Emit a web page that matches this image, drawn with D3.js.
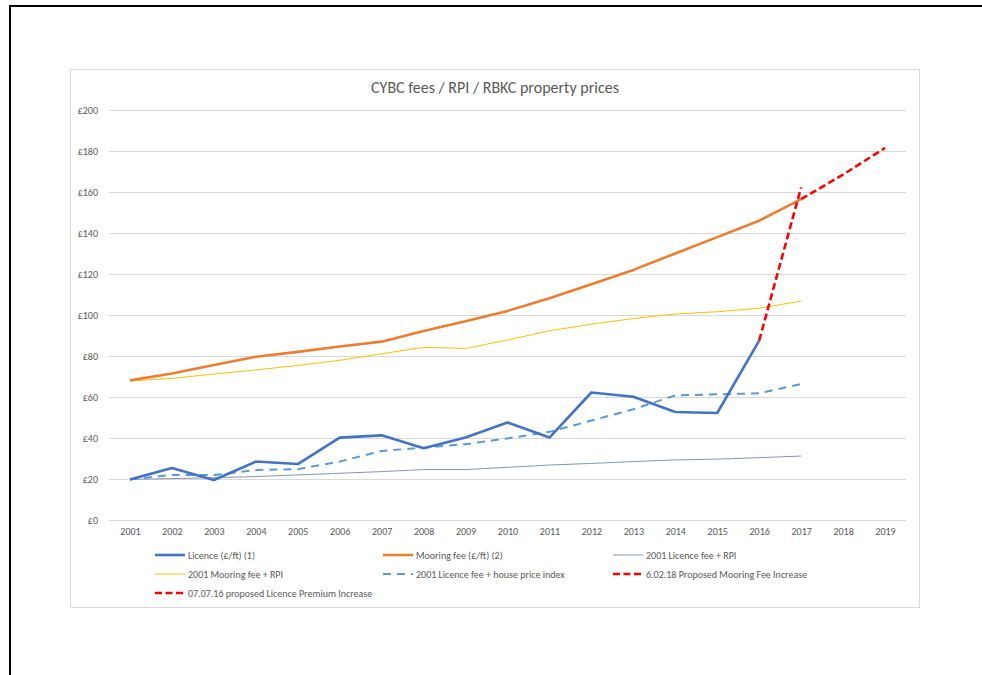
<!DOCTYPE html>
<html><head><meta charset="utf-8">
<script src="https://cdn.jsdelivr.net/npm/d3@7"></script>
<style>
html,body{margin:0;padding:0;background:#fff;}
svg text{font-family:Carlito,Calibri,Lato,"Liberation Sans",sans-serif;fill:#595959;}
</style></head>
<body>
<svg id="chart" width="982" height="675"></svg>
<script>
const years = ["2001","2002","2003","2004","2005","2006","2007","2008","2009","2010","2011","2012","2013","2014","2015","2016","2017","2018","2019"];
const yTicks = [0,20,40,60,80,100,120,140,160,180,200];
const title = "CYBC fees / RPI / RBKC property prices";

const licence = [19.8,25.4,19.5,28.5,27.3,40.2,41.3,35,40.2,47.6,40.2,62.2,60.1,52.7,52.2,87.5,null,null,null];
const mooring = [68.1,71.5,75.6,79.6,82,84.6,87,92.2,97,102,108.2,115,122,130,138,146,156.5,null,null];
const licenceRPI = [19.8,20.2,20.6,21.2,22,22.8,23.6,24.6,24.6,25.7,26.8,27.6,28.5,29.3,29.7,30.4,31.2,null,null];
const mooringRPI = [67.8,69.1,71.2,73.2,75.4,77.9,81.1,84.2,83.7,87.8,92.3,95.5,98.3,100.5,101.6,103.3,106.8,null,null];
const licenceHPI = [19.8,22,21.9,24.4,24.8,28.5,33.7,35.3,37,39.8,43,48.5,54,60.8,61.3,61.8,66.3,null,null];
const mooringProposed = [null,null,null,null,null,null,null,null,null,null,null,null,null,null,null,null,156.5,168.5,181.5];
const licenceProposed = [null,null,null,null,null,null,null,null,null,null,null,null,null,null,null,87.5,162.3,null,null];

const seriesNames = ["Licence (£/ft) (1)","Mooring fee (£/ft) (2)","2001 Licence fee + RPI","2001 Mooring fee + RPI","2001 Licence fee + house price index","6.02.18 Proposed Mooring Fee Increase","07.07.16 proposed Licence Premium Increase"];

const series = [
  {name:seriesNames[0], values:licence, color:"#4472C4", width:2.6, dash:null},
  {name:seriesNames[1], values:mooring, color:"#ED7D31", width:2.6, dash:null},
  {name:seriesNames[2], values:licenceRPI, color:"#8496B0", width:1, dash:null},
  {name:seriesNames[3], values:mooringRPI, color:"#FFC000", width:1, dash:null},
  {name:seriesNames[4], values:licenceHPI, color:"#5B9BD5", width:2, dash:"8,6"},
  {name:seriesNames[5], values:mooringProposed, color:"#FF0000", width:2.6, dash:"7,3.5"},
  {name:seriesNames[6], values:licenceProposed, color:"#FF0000", width:2.6, dash:"7,3.5"}
];
const drawOrder = [2,3,4,0,1,6,5];

const svg = d3.select("#chart");
// outer frame
svg.append("rect").attr("x",10).attr("y",6).attr("width",1000).attr("height",700)
  .attr("fill","none").attr("stroke","#000").attr("stroke-width",2);
// chart area
svg.append("rect").attr("x",70.5).attr("y",69.5).attr("width",849).attr("height",538)
  .attr("fill","#fff").attr("stroke","#D9D9D9").attr("stroke-width",1);

svg.append("text").attr("x",495).attr("y",93).attr("text-anchor","middle")
  .style("font-size","16px").text(title);

const x = d3.scalePoint().domain(years).range([109,906]).padding(0.5);
const y = d3.scaleLinear().domain([0,200]).range([520,110]);

// gridlines
const yAxis = d3.axisLeft(y).tickValues(yTicks).tickSize(-(906-109)).tickFormat(d=>"£"+d).tickPadding(11);
const gy = svg.append("g").attr("transform","translate(109,0)").call(yAxis);
gy.select(".domain").remove();
gy.selectAll(".tick line").attr("stroke","#D9D9D9").attr("stroke-width",1);
gy.selectAll(".tick text").style("font-size","10px").attr("fill","#595959");

const xAxis = d3.axisBottom(x).tickSize(0).tickPadding(8);
const gx = svg.append("g").attr("transform","translate(0,520)").call(xAxis);
gx.select(".domain").remove();
gx.selectAll(".tick text").style("font-size","10px").attr("fill","#595959");

const line = d3.line().defined(d=>d.v!=null).x(d=>x(d.k)).y(d=>y(d.v));
drawOrder.forEach(i=>{
  const s = series[i];
  const data = years.map((k,j)=>({k:k,v:s.values[j]}));
  svg.append("path").datum(data).attr("d",line).attr("fill","none")
    .attr("stroke",s.color).attr("stroke-width",s.width)
    .attr("stroke-dasharray",s.dash).attr("stroke-linejoin","round");
});

// legend
const legX = [155,383,613];
const legY = [555,574,593];
series.forEach((s,i)=>{
  const lx = legX[i%3], ly = legY[Math.floor(i/3)];
  const g = svg.append("g");
  g.append("line").attr("x1",lx).attr("x2",lx+30).attr("y1",ly).attr("y2",ly)
    .attr("stroke",s.color).attr("stroke-width",s.width).attr("stroke-dasharray",s.dash);
  g.append("text").attr("x",lx+33).attr("y",ly).attr("dy","0.35em")
    .style("font-size","10px").text(s.name);
});
</script>
</body></html>
